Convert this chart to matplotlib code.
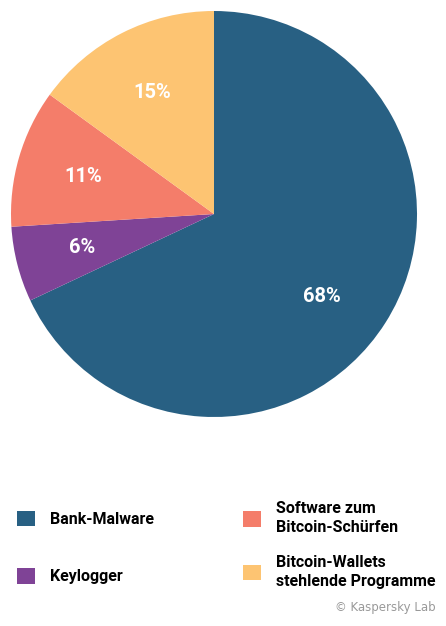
import matplotlib.pyplot as plt
import numpy as np

labels = ['Bank-Malware', 'Keylogger', 'Software zum\nBitcoin-Schürfen',
          'Bitcoin-Wallets\nstehlende Programme']
values = [68, 6, 11, 15]
colors = ['#286083', '#7f4396', '#f47d6a', '#fdc472']

font = 'Roboto'

fig = plt.figure(figsize=(4.46, 6.26), dpi=100)
ax = fig.add_axes([11/446, 1 - 417/626, 406/446, 406/626])

wedges, texts, autotexts = ax.pie(
    values, colors=colors, startangle=90, counterclock=False,
    autopct='%d%%', pctdistance=0.69,
    textprops=dict(color='white', fontsize=14.5, fontweight='bold', family=font))
ax.set_xlim(-1, 1)
ax.set_ylim(-1, 1)
ax.set_aspect('equal')

# the big slice label sits a bit lower in the original
offsets = [-5, 0, 0, 0]
for w, t, off in zip(wedges, autotexts, offsets):
    ang = np.deg2rad((w.theta1 + w.theta2) / 2 + off)
    t.set_position((0.67 * np.cos(ang), 0.67 * np.sin(ang)))

leg_kw = dict(loc='center left', frameon=False, handlelength=1.1,
              handleheight=1.1, handletextpad=0.95, borderpad=0,
              borderaxespad=0,
              prop=dict(family=font, weight='bold', size=11.5))

leg1 = fig.legend(wedges[:2], labels[:2], bbox_to_anchor=(17/446, 1 - 547.5/626),
                  labelspacing=2.6, **leg_kw)
leg2 = fig.legend(wedges[2:], labels[2:], bbox_to_anchor=(243/446, 1 - 545/626),
                  labelspacing=1.2, **leg_kw)
for t in leg2.get_texts():
    t.set_linespacing(1.35)
for leg in (leg1, leg2):
    for h in leg.legend_handles:
        h.set_edgecolor('none')

fig.text(436/446, 1 - 608/626, '© Kaspersky Lab', ha='right', va='center',
         color='#999999', fontsize=8.5, family='DejaVu Sans')

fig.savefig('out.png', dpi=100)
